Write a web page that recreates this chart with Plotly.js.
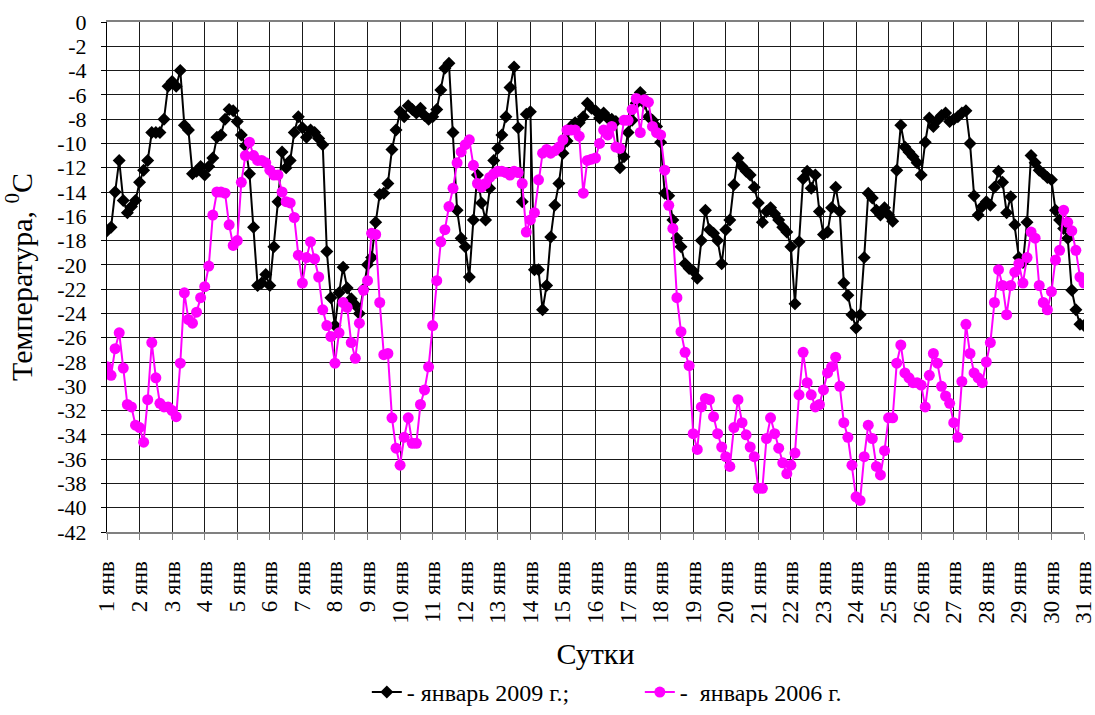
<!DOCTYPE html>
<html>
<head>
<meta charset="utf-8">
<script src="https://cdn.plot.ly/plotly-3.0.1.min.js"></script>
<style>html,body{margin:0;padding:0;background:#fff;}#chart{width:1095px;height:715px;}</style>
</head>
<body>
<div id="chart"></div>
<script>
// Day numbers for the x axis ticks (1..31 January)
const dayTicks = [1,2,3,4,5,6,7,8,9,10,11,12,13,14,15,16,17,18,19,20,21,22,23,24,25,26,27,28,29,30,31];
const dayLabels = dayTicks.map(d => d + ' янв');
const stepsPerDay = 8; // 3-hourly observations

// January 2009, 3-hourly temperatures (°C)
const jan2009 = [
  -17.2, -16.9, -14.0, -11.4, -14.7, -15.7, -15.2, -14.7,
  -13.2, -12.2, -11.4, -9.1, -9.1, -9.1, -8.0, -5.3,
  -4.9, -5.3, -4.0, -8.5, -8.9, -12.5, -12.3, -11.9,
  -12.6, -11.9, -11.2, -9.5, -9.3, -8.0, -7.2, -7.3,
  -8.2, -9.3, -10.2, -12.5, -16.9, -21.7, -21.5, -20.8,
  -21.7, -18.5, -14.8, -10.7, -12.0, -11.4, -9.1, -7.8,
  -8.7, -9.5, -8.9, -9.1, -9.6, -10.1, -18.9, -22.7,
  -25.0, -22.3, -20.2, -21.9, -22.8, -23.3, -24.0, -22.0,
  -20.0, -19.4, -16.5, -14.2, -14.1, -13.3, -10.5, -8.9,
  -7.4, -7.8, -6.9, -7.2, -7.5, -7.1, -7.7, -8.0,
  -7.8, -7.2, -5.6, -3.8, -3.4, -9.1, -15.5, -17.8,
  -18.5, -21.0, -16.3, -12.6, -14.9, -16.3, -13.7, -11.4,
  -10.4, -9.3, -7.8, -5.4, -3.7, -8.7, -14.8, -7.6,
  -7.4, -20.4, -20.4, -23.7, -21.7, -17.7, -15.1, -13.3,
  -10.8, -9.8, -8.6, -8.3, -8.3, -7.8, -6.7, -7.1,
  -7.3, -7.9, -7.5, -7.9, -8.0, -8.2, -12.0, -11.1,
  -9.1, -8.1, -6.7, -5.8, -6.7, -7.8, -8.1, -8.6,
  -9.9, -14.1, -14.3, -16.3, -17.8, -18.5, -19.9, -20.3,
  -20.5, -21.1, -18.0, -15.5, -17.1, -17.4, -18.0, -19.9,
  -17.1, -16.3, -13.4, -11.2, -11.9, -12.3, -12.6, -13.6,
  -14.9, -16.5, -15.6, -15.3, -15.8, -16.3, -16.9, -17.3,
  -18.5, -23.2, -18.1, -12.9, -12.3, -13.7, -12.6, -15.6,
  -17.5, -17.3, -15.3, -13.6, -15.6, -21.5, -22.5, -24.1,
  -25.2, -24.1, -19.4, -14.1, -14.5, -15.5, -15.9, -15.3,
  -15.9, -16.4, -12.2, -8.5, -10.3, -10.7, -11.1, -11.6,
  -12.6, -9.9, -7.9, -8.6, -8.1, -7.7, -7.5, -8.2,
  -8.0, -7.8, -7.5, -7.3, -10.0, -14.3, -15.9, -15.2,
  -14.8, -15.1, -13.6, -12.3, -13.2, -15.7, -14.4, -16.7,
  -19.4, -19.8, -16.5, -11.0, -11.6, -12.2, -12.5, -12.8,
  -13.0, -15.5, -16.3, -17.0, -17.8, -22.1, -23.7, -24.9, -25.0
];

// January 2006, 3-hourly temperatures (°C)
const jan2006 = [
  -28.4, -29.1, -26.9, -25.6, -28.5, -31.5, -31.7, -33.2,
  -33.4, -34.6, -31.1, -26.4, -29.3, -31.4, -31.7, -31.7,
  -32.0, -32.5, -28.1, -22.3, -24.5, -24.8, -23.9, -22.7,
  -21.8, -20.1, -15.9, -14.0, -14.0, -14.1, -16.7, -18.4,
  -18.0, -13.2, -11.0, -9.9, -11.0, -11.4, -11.4, -11.6,
  -12.2, -12.6, -12.6, -14.0, -14.8, -14.9, -16.1, -19.2,
  -21.5, -19.4, -18.1, -19.5, -21.0, -23.7, -25.0, -25.9,
  -28.1, -25.6, -23.1, -23.5, -26.4, -27.7, -24.8, -22.1,
  -21.3, -17.4, -17.5, -23.1, -27.4, -27.3, -32.6, -35.1,
  -36.5, -34.2, -32.6, -34.7, -34.7, -31.5, -30.3, -28.4,
  -25.0, -21.3, -18.1, -17.1, -15.2, -13.7, -11.6, -10.7,
  -10.1, -9.7, -11.8, -13.3, -13.6, -13.3, -12.8, -12.5,
  -12.3, -12.3, -12.4, -12.6, -12.3, -12.4, -13.3, -17.3,
  -16.3, -15.7, -13.0, -10.8, -10.5, -10.8, -10.6, -10.3,
  -9.7, -8.9, -8.9, -8.9, -9.4, -14.1, -11.4, -11.3,
  -11.2, -10.0, -8.9, -9.3, -8.6, -10.3, -10.4, -8.1,
  -8.1, -7.2, -6.3, -9.1, -6.4, -6.6, -8.6, -9.1,
  -9.3, -12.2, -15.1, -17.0, -22.7, -25.5, -27.2, -28.3,
  -33.9, -35.2, -31.7, -31.0, -31.1, -32.5, -33.9, -35.0,
  -35.8, -36.6, -33.4, -31.1, -33.0, -34.0, -35.0, -35.8,
  -38.4, -38.4, -34.3, -32.6, -33.9, -35.1, -36.3, -37.2,
  -36.5, -35.5, -30.7, -27.2, -29.7, -30.7, -31.7, -31.5,
  -30.3, -28.9, -28.4, -27.6, -30.0, -33.0, -34.2, -36.5,
  -39.1, -39.4, -35.8, -33.2, -34.3, -36.6, -37.3, -35.3,
  -32.6, -32.6, -28.1, -26.6, -28.9, -29.3, -29.7, -29.7,
  -29.9, -31.7, -29.1, -27.3, -28.1, -30.0, -30.8, -31.4,
  -33.0, -34.2, -29.6, -24.9, -27.3, -28.9, -29.3, -29.7,
  -28.0, -26.4, -23.1, -20.4, -21.7, -24.1, -21.7, -20.6,
  -19.9, -21.5, -19.4, -17.3, -17.8, -21.7, -23.1, -23.7,
  -22.2, -19.6, -18.8, -15.5, -16.5, -17.2, -18.8, -21.0, -21.5
];

const yTicks = [0,-2,-4,-6,-8,-10,-12,-14,-16,-18,-20,-22,-24,-26,-28,-30,-32,-34,-36,-38,-40,-42];

const seriesNames = ['- январь 2009 г.;', '-  январь 2006 г.'];

const timeOf = arr => arr.map((_, i) => 1 + i / stepsPerDay);

const serif = 'Liberation Serif, serif';

const traces = [
  {
    x: timeOf(jan2009), y: jan2009, name: seriesNames[0],
    type: 'scatter', mode: 'lines+markers',
    line: {color: '#000000', width: 2},
    marker: {symbol: 'diamond', size: 10, color: '#000000'}
  },
  {
    x: timeOf(jan2006), y: jan2006, name: seriesNames[1],
    type: 'scatter', mode: 'lines+markers',
    line: {color: '#ff00ff', width: 2},
    marker: {symbol: 'circle', size: 11, color: '#ff00ff'}
  }
];

const layout = {
  width: 1095, height: 715,
  paper_bgcolor: '#ffffff', plot_bgcolor: '#ffffff',
  margin: {l: 107, r: 11, t: 22, b: 183},
  font: {family: serif, color: '#000000', size: 18},
  showlegend: true,
  legend: {
    orientation: 'h',
    xref: 'container', yref: 'container',
    x: 0.335, xanchor: 'left', y: -0.021, yanchor: 'bottom',
    font: {family: serif, size: 24, color: '#000'},
    entrywidth: 228, entrywidthmode: 'pixels',
    traceorder: 'normal'
  },
  xaxis: {
    range: [1, 31], automargin: false,
    tickmode: 'array', tickvals: dayTicks, ticktext: dayLabels,
    tickangle: -90, ticklabeloverflow: 'allow', ticklabelstandoff: 12,
    tickfont: {family: serif, size: 23, color: '#000'},
    showgrid: true, gridcolor: '#1a1a1a', gridwidth: 1,
    showline: true, linecolor: '#808080', linewidth: 2, mirror: true,
    ticks: 'outside', ticklen: 6, tickcolor: '#808080', zeroline: false,
    title: {text: 'Сутки', font: {family: serif, size: 30, color: '#000'}, standoff: 43}
  },
  yaxis: {
    range: [-42, 0], automargin: false,
    tickmode: 'array', tickvals: yTicks, ticktext: yTicks.map(String),
    tickfont: {family: serif, size: 22, color: '#000'},
    ticklabelstandoff: 10,
    showgrid: true, gridcolor: '#1a1a1a', gridwidth: 1,
    showline: true, linecolor: '#000000', linewidth: 1, mirror: false,
    ticks: 'outside', ticklen: 5, tickcolor: '#000',
    zeroline: false,
    title: {text: 'Температура, <sup>0</sup>С', font: {family: serif, size: 30, color: '#000'}, standoff: 17}
  }
};

Plotly.newPlot('chart', traces, layout, {displayModeBar: false, staticPlot: true});
</script>
</body>
</html>
